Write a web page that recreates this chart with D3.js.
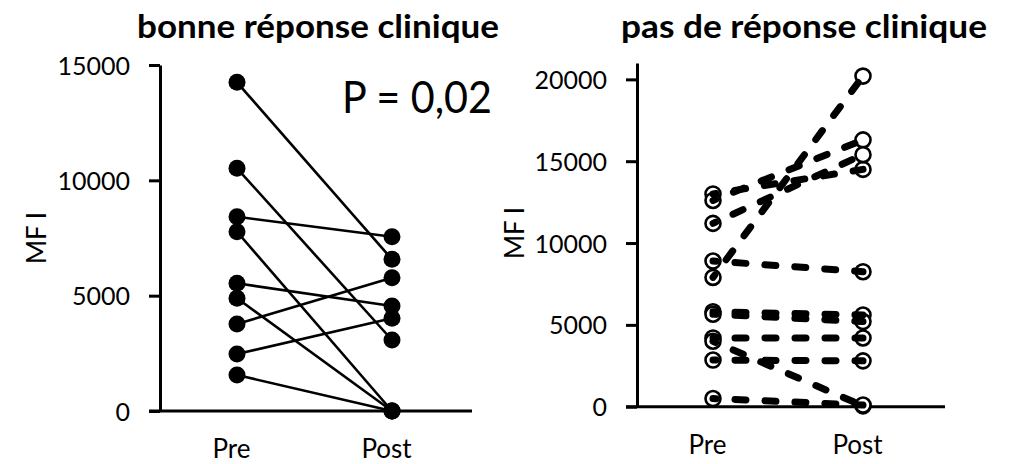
<!DOCTYPE html>
<html>
<head>
<meta charset="utf-8">
<script src="https://cdn.jsdelivr.net/npm/d3@7"></script>
<style>
  body { margin: 0; background: #fff; }
  svg { display: block; }
  text { font-family: Lato, "Open Sans", sans-serif; fill: #000; }
</style>
</head>
<body>
<div id="chart"></div>
<script>
// Data (MFI)
const groups = ["Pre", "Post"];
const goodPre = [14250, 10520, 8420, 7770, 5535, 4885, 3770, 2470, 1560];
const goodPost = [6575, 3078, 7555, 0, 4550, 0, 5780, 4018, 0];
const nonePre = [13000, 12600, 11200, 8900, 7900, 5800, 5650, 4200, 4000, 2850, 500];
const nonePost = [14500, 16300, 15400, 8250, 20200, 5600, 5200, 4200, 50, 2800, 100];
const goodTicks = [0, 5000, 10000, 15000];
const noneTicks = [0, 5000, 10000, 15000, 20000];

const width = 1013;
const height = 464;

const svg = d3.select("#chart")
  .append("svg")
  .attr("width", width)
  .attr("height", height);

function drawPanel(p) {
  const g = svg.append("g");
  const pairs = p.pre.map((v, i) => ({ pre: v, post: p.post[i] }));

  const x = d3.scalePoint().domain(groups).range([p.x0, p.x1]);
  const y = d3.scaleLinear().domain(p.domain).range([p.bottom, p.top]);

  // y axis
  const yAxis = d3.axisLeft(y)
    .tickValues(p.ticks)
    .tickFormat(d3.format("d"))
    .tickSize(11).tickPadding(19).tickSizeOuter(0);
  const ya = g.append("g")
    .attr("transform", `translate(${p.axisX},0)`)
    .call(yAxis);
  ya.select(".domain").attr("stroke-width", 3);
  ya.selectAll(".tick line").attr("stroke-width", 3);
  ya.selectAll(".tick text").attr("font-size", 25).attr("dy", "0.36em");

  // x axis line
  g.append("line")
    .attr("x1", p.axisX - 11).attr("x2", p.xEnd)
    .attr("y1", p.bottom).attr("y2", p.bottom)
    .attr("stroke", "#000").attr("stroke-width", 3);

  const xAxis = d3.axisBottom(x).tickSize(0).tickPadding(29);
  const xa = g.append("g")
    .attr("transform", `translate(0,${p.bottom})`)
    .call(xAxis);
  xa.select(".domain").remove();
  xa.selectAll(".tick text").attr("font-size", 26).attr("dx", -6);

  // axis title
  g.append("text")
    .attr("transform", `translate(${p.labelX},${p.labelY}) rotate(-90)`)
    .attr("text-anchor", "middle")
    .attr("font-size", 26)
    .attr("dy", "0.35em")
    .text("MF I");

  // panel title
  g.append("text")
    .attr("x", p.titleX).attr("y", 38)
    .attr("font-size", 32).attr("font-weight", 700)
    .attr("textLength", p.titleLen).attr("lengthAdjust", "spacingAndGlyphs")
    .text(p.title);

  const points = [];
  pairs.forEach(d => {
    points.push({ g: "Pre", v: d.pre });
    points.push({ g: "Post", v: d.post });
  });

  if (p.filled) {
    g.selectAll(".pair")
      .data(pairs)
      .enter()
      .append("line")
      .attr("class", "pair")
      .attr("x1", x("Pre")).attr("y1", d => y(d.pre))
      .attr("x2", x("Post")).attr("y2", d => y(d.post))
      .attr("stroke", "#000").attr("stroke-width", 2.6);
    g.selectAll(".pt")
      .data(points)
      .enter()
      .append("circle")
      .attr("class", "pt")
      .attr("cx", d => x(d.g)).attr("cy", d => y(d.v))
      .attr("r", 8.5).attr("fill", "#000");
  } else {
    g.selectAll(".pt")
      .data(points)
      .enter()
      .append("circle")
      .attr("class", "pt")
      .attr("cx", d => x(d.g)).attr("cy", d => y(d.v))
      .attr("r", 7.5).attr("fill", "#fff")
      .attr("stroke", "#000").attr("stroke-width", 2.6);
    g.selectAll(".pair")
      .data(pairs)
      .enter()
      .append("line")
      .attr("class", "pair")
      .attr("x1", x("Pre")).attr("y1", d => y(d.pre))
      .attr("x2", x("Post")).attr("y2", d => y(d.post))
      .attr("stroke", "#000").attr("stroke-width", 7)
      .attr("stroke-linecap", "round")
      .attr("stroke-dasharray", "11 19")
      .attr("stroke-dashoffset", 8);
  }
}

drawPanel({
  title: "bonne réponse clinique", titleX: 137, titleLen: 362,
  pre: goodPre, post: goodPost, ticks: goodTicks, domain: [0, 15000],
  top: 65, bottom: 411, axisX: 160, xEnd: 472, x0: 237, x1: 392,
  labelX: 37, labelY: 238, filled: true
});

drawPanel({
  title: "pas de réponse clinique", titleX: 621, titleLen: 366,
  pre: nonePre, post: nonePost, ticks: noneTicks, domain: [0, 21000],
  top: 63, bottom: 406.7, axisX: 637, xEnd: 945, x0: 713, x1: 863,
  labelX: 515, labelY: 233, filled: false
});

svg.append("text")
  .attr("x", 342).attr("y", 113)
  .attr("font-size", 44)
  .attr("textLength", 150).attr("lengthAdjust", "spacingAndGlyphs")
  .text("P = 0,02");
</script>
</body>
</html>
